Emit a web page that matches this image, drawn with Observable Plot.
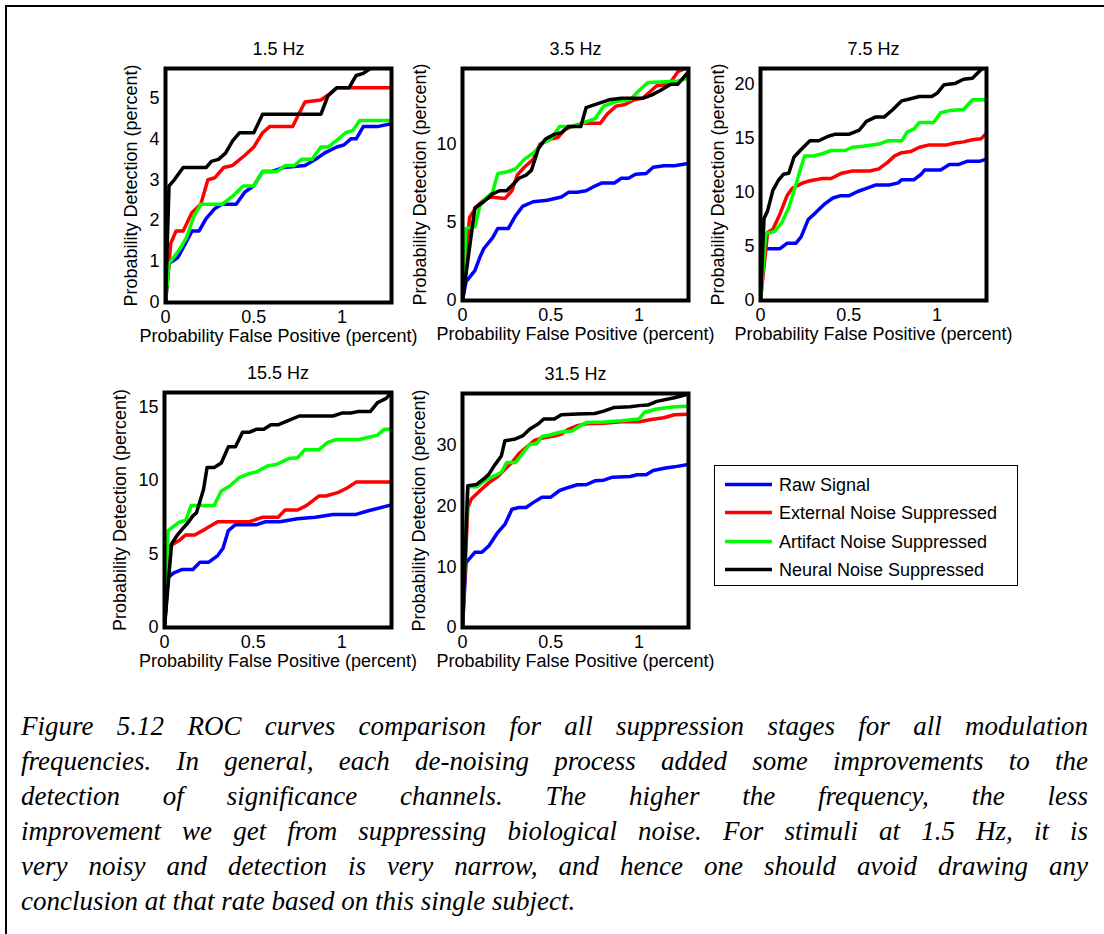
<!DOCTYPE html>
<html>
<head>
<meta charset="utf-8">
<script src="https://cdn.jsdelivr.net/npm/d3@7"></script>
<script src="https://cdn.jsdelivr.net/npm/@observablehq/plot@0.6"></script>
<style>
  html, body { margin: 0; padding: 0; background: #fff; }
  #page { position: relative; width: 1104px; height: 934px; overflow: hidden; font-family: "Liberation Sans", Arial, sans-serif; }
  #border { position: absolute; left: 5px; top: 5px; width: 1120px; height: 950px; border: 2px solid #000; box-sizing: border-box; }
  .panel { position: absolute; }
  .panel svg { overflow: visible; background: transparent; max-width: none; }
  #legend { position: absolute; left: 714px; top: 465px; width: 304px; height: 121px; border: 1.5px solid #000; box-sizing: border-box; background: #fff; }
  .lrow { position: absolute; left: 0; height: 28px; width: 100%; }
  .lrow svg { position: absolute; left: 10px; top: 0; }
  .lrow span { position: absolute; left: 64px; top: 3px; font-size: 18px; line-height: 22px; color: #000; white-space: nowrap; }
  #caption { position: absolute; left: 21px; top: 709px; width: 1067px; font-family: "Liberation Serif", "Times New Roman", serif; font-style: italic; font-size: 27px; line-height: 35px; color: #000; }
  #caption div { text-align: justify; text-align-last: justify; white-space: nowrap; }
  #caption div.last { text-align-last: left; }
</style>
</head>
<body>
<div id="page">
  <div id="border"></div>
  <div id="legend"></div>
  <div id="caption"></div>
</div>
<script>
// ---------- data ----------
const seriesNames = ["Raw Signal", "External Noise Suppressed", "Artifact Noise Suppressed", "Neural Noise Suppressed"];
const seriesColors = ["#0000ff", "#ff0000", "#00ff00", "#000000"];
const panelTitles = ["1.5 Hz", "3.5 Hz", "7.5 Hz", "15.5 Hz", "31.5 Hz"];
const xLabel = "Probability False Positive (percent)";
const yLabel = "Probability Detection (percent)";
const xMax = 1.28;
const xTicks = [0, 0.5, 1];
const yMaxes = [5.72, 14.8, 21.5, 16.0, 38.6];
const yTicks = [[0, 1, 2, 3, 4, 5], [0, 5, 10], [0, 5, 10, 15, 20], [0, 5, 10, 15], [0, 10, 20, 30]];

// 1.5 Hz
const hz1_raw = [[0,0],[0.02,0.95],[0.07,1.1],[0.12,1.5],[0.15,1.75],[0.19,1.75],[0.23,2.05],[0.28,2.3],[0.32,2.4],[0.4,2.4],[0.45,2.7],[0.5,2.85],[0.55,3.2],[0.6,3.2],[0.67,3.3],[0.79,3.35],[0.85,3.5],[0.9,3.65],[0.97,3.8],[1.01,3.85],[1.05,4.0],[1.08,4.0],[1.12,4.3],[1.2,4.3],[1.28,4.37]];
const hz1_ext = [[0,0],[0.03,1.45],[0.06,1.75],[0.1,1.75],[0.15,2.2],[0.2,2.4],[0.24,3.0],[0.28,3.05],[0.33,3.3],[0.38,3.35],[0.45,3.6],[0.5,3.8],[0.55,4.15],[0.59,4.3],[0.72,4.3],[0.76,4.65],[0.79,4.9],[0.88,4.95],[0.93,5.1],[0.97,5.25],[1.28,5.25]];
const hz1_art = [[0,0],[0.02,0.95],[0.08,1.3],[0.12,1.6],[0.16,2.1],[0.2,2.4],[0.32,2.4],[0.38,2.6],[0.44,2.85],[0.5,2.85],[0.55,3.2],[0.63,3.2],[0.68,3.35],[0.73,3.35],[0.77,3.5],[0.83,3.5],[0.88,3.8],[0.92,3.8],[0.98,4.0],[1.02,4.15],[1.06,4.2],[1.1,4.45],[1.28,4.45]];
const hz1_neu = [[0,0],[0.02,2.85],[0.05,3.0],[0.1,3.3],[0.23,3.3],[0.26,3.45],[0.3,3.5],[0.34,3.65],[0.38,3.95],[0.42,4.15],[0.5,4.15],[0.55,4.6],[0.88,4.6],[0.92,5.05],[0.97,5.25],[1.04,5.25],[1.08,5.55],[1.12,5.6],[1.16,5.72],[1.28,5.9]];

// 3.5 Hz
const hz3_raw = [[0,0],[0.02,1.2],[0.07,1.9],[0.1,2.8],[0.12,3.3],[0.17,4.0],[0.2,4.6],[0.26,4.6],[0.3,5.4],[0.34,6.0],[0.4,6.3],[0.48,6.4],[0.56,6.6],[0.6,6.9],[0.65,6.9],[0.7,7.0],[0.75,7.3],[0.79,7.5],[0.86,7.5],[0.9,7.8],[0.94,7.8],[0.98,8.05],[1.04,8.1],[1.08,8.5],[1.14,8.6],[1.2,8.6],[1.28,8.75]];
const hz3_ext = [[0,0],[0.04,5.3],[0.08,6.0],[0.12,6.4],[0.16,6.6],[0.24,6.5],[0.28,7.0],[0.31,8.0],[0.35,8.5],[0.4,9.0],[0.44,10.0],[0.5,10.3],[0.54,10.4],[0.58,10.9],[0.62,11.1],[0.68,11.3],[0.78,11.3],[0.82,11.9],[0.87,12.4],[0.92,12.5],[0.97,12.8],[1.02,12.9],[1.07,13.4],[1.1,13.7],[1.17,13.8],[1.22,14.6],[1.28,14.9]];
const hz3_art = [[0,0],[0.02,4.6],[0.07,4.7],[0.1,6.1],[0.13,6.5],[0.17,6.9],[0.2,8.1],[0.25,8.2],[0.3,8.4],[0.35,9.0],[0.4,9.4],[0.45,10.0],[0.5,10.3],[0.55,11.1],[0.63,11.1],[0.7,11.4],[0.75,11.6],[0.8,12.4],[0.87,12.7],[0.95,12.8],[1.0,13.4],[1.05,13.9],[1.15,13.95],[1.22,14.0],[1.28,14.2]];
const hz3_neu = [[0,0],[0.07,5.9],[0.12,6.3],[0.17,6.8],[0.21,7.0],[0.25,7.0],[0.32,7.8],[0.36,8.0],[0.39,8.3],[0.43,9.7],[0.47,10.3],[0.52,10.6],[0.56,10.7],[0.6,11.1],[0.67,11.1],[0.7,12.3],[0.75,12.5],[0.83,12.8],[0.9,12.9],[1.02,12.9],[1.07,13.1],[1.12,13.4],[1.18,13.8],[1.22,13.8],[1.28,14.6]];

// 7.5 Hz
const hz7_raw = [[0,0],[0.02,4.8],[0.11,4.8],[0.15,5.3],[0.2,5.3],[0.23,5.9],[0.27,7.5],[0.31,8.1],[0.36,8.9],[0.41,9.5],[0.45,9.7],[0.5,9.7],[0.55,10.1],[0.6,10.4],[0.65,10.7],[0.73,10.7],[0.78,10.9],[0.8,11.2],[0.87,11.2],[0.91,11.7],[0.93,12.1],[1.02,12.1],[1.07,12.6],[1.12,12.6],[1.17,12.9],[1.24,12.9],[1.28,13.1]];
const hz7_ext = [[0,0],[0.04,6.3],[0.07,6.6],[0.11,8.0],[0.15,9.7],[0.18,10.4],[0.24,10.9],[0.28,11.1],[0.35,11.3],[0.4,11.3],[0.46,11.8],[0.52,12.0],[0.62,12.0],[0.67,12.2],[0.72,12.8],[0.76,13.4],[0.8,13.7],[0.85,13.8],[0.9,14.2],[0.95,14.4],[1.05,14.4],[1.1,14.6],[1.15,14.7],[1.2,14.9],[1.25,15.0],[1.28,15.5]];
const hz7_art = [[0,0],[0.03,6.2],[0.08,6.4],[0.12,7.2],[0.16,8.6],[0.2,10.7],[0.23,12.4],[0.25,13.4],[0.3,13.4],[0.35,13.6],[0.4,13.9],[0.48,13.9],[0.52,14.2],[0.58,14.3],[0.67,14.5],[0.72,14.8],[0.8,14.8],[0.83,15.6],[0.87,15.9],[0.9,16.5],[0.98,16.5],[1.02,17.4],[1.07,17.6],[1.15,17.7],[1.2,18.6],[1.28,18.6]];
const hz7_neu = [[0,0],[0.02,7.6],[0.04,8.3],[0.07,10.2],[0.1,11.1],[0.13,11.7],[0.16,11.8],[0.19,13.3],[0.23,14.0],[0.28,14.8],[0.33,14.8],[0.38,15.2],[0.42,15.4],[0.5,15.4],[0.56,15.8],[0.6,16.6],[0.65,17.0],[0.7,17.0],[0.75,17.7],[0.8,18.5],[0.85,18.7],[0.9,18.9],[0.97,18.9],[1.0,19.2],[1.04,20.0],[1.1,20.1],[1.15,20.5],[1.2,20.6],[1.25,21.4],[1.28,21.8]];

// 15.5 Hz
const hz15_raw = [[0,0],[0.02,3.4],[0.05,3.7],[0.1,3.95],[0.16,3.95],[0.2,4.45],[0.25,4.45],[0.3,4.9],[0.33,5.4],[0.36,6.6],[0.4,7.0],[0.52,7.0],[0.57,7.2],[0.65,7.2],[0.75,7.4],[0.85,7.5],[0.95,7.7],[1.08,7.7],[1.15,7.95],[1.28,8.35]];
const hz15_ext = [[0,0],[0.03,5.55],[0.08,5.9],[0.12,6.3],[0.17,6.3],[0.23,6.7],[0.3,7.2],[0.48,7.2],[0.55,7.5],[0.64,7.5],[0.68,8.0],[0.75,8.0],[0.8,8.3],[0.87,8.95],[0.91,8.95],[0.98,9.2],[1.03,9.5],[1.08,9.9],[1.28,9.9]];
const hz15_art = [[0,0],[0.02,6.6],[0.08,7.15],[0.12,7.3],[0.15,8.3],[0.19,8.3],[0.28,8.3],[0.32,9.3],[0.37,9.65],[0.42,10.2],[0.47,10.45],[0.52,10.6],[0.58,11.0],[0.63,11.1],[0.7,11.5],[0.75,11.55],[0.79,12.1],[0.87,12.1],[0.92,12.6],[0.97,12.8],[1.1,12.8],[1.2,13.1],[1.24,13.5],[1.28,13.5]];
const hz15_neu = [[0,0],[0.04,5.7],[0.07,6.25],[0.1,6.7],[0.13,7.1],[0.16,7.6],[0.18,7.8],[0.2,8.6],[0.22,9.4],[0.24,10.9],[0.28,10.9],[0.32,11.2],[0.36,12.3],[0.4,12.3],[0.44,13.3],[0.48,13.3],[0.52,13.5],[0.56,13.5],[0.6,13.8],[0.64,13.8],[0.7,14.1],[0.76,14.4],[0.95,14.4],[1.0,14.6],[1.05,14.6],[1.09,14.7],[1.16,14.7],[1.2,15.3],[1.25,15.6],[1.28,16.0]];

// 31.5 Hz
const hz31_raw = [[0,0],[0.02,10.7],[0.07,12.4],[0.11,12.4],[0.15,13.5],[0.2,15.7],[0.24,17.0],[0.28,19.5],[0.32,19.8],[0.36,19.8],[0.4,20.6],[0.45,21.5],[0.5,21.5],[0.55,22.6],[0.6,23.1],[0.65,23.55],[0.7,23.55],[0.75,24.2],[0.8,24.3],[0.85,24.8],[0.95,24.9],[0.99,25.2],[1.04,25.2],[1.08,25.9],[1.15,26.3],[1.2,26.5],[1.28,26.9]];
const hz31_ext = [[0,0],[0.03,19.8],[0.05,21.2],[0.1,22.6],[0.15,23.9],[0.2,24.9],[0.25,26.4],[0.28,27.2],[0.32,28.7],[0.36,29.7],[0.41,30.9],[0.46,31.3],[0.52,31.6],[0.56,31.9],[0.6,32.7],[0.65,33.3],[0.7,33.6],[0.8,33.7],[0.9,33.95],[1.0,33.95],[1.07,34.3],[1.14,34.6],[1.2,35.1],[1.28,35.2]];
const hz31_art = [[0,0],[0.03,23.2],[0.08,23.2],[0.13,24.3],[0.18,25.0],[0.22,25.6],[0.25,27.2],[0.3,27.2],[0.34,28.7],[0.38,30.2],[0.42,30.3],[0.45,31.5],[0.5,31.8],[0.55,32.2],[0.62,32.4],[0.65,33.0],[0.7,33.8],[0.8,33.9],[0.9,34.1],[1.0,34.4],[1.03,35.5],[1.1,36.05],[1.2,36.4],[1.28,36.5]];
const hz31_neu = [[0,0],[0.03,23.4],[0.08,23.6],[0.12,24.5],[0.15,25.3],[0.18,26.7],[0.22,28.3],[0.24,30.8],[0.3,31.1],[0.34,31.6],[0.38,32.7],[0.43,33.6],[0.46,34.4],[0.52,34.4],[0.56,35.1],[0.65,35.2],[0.75,35.3],[0.8,35.7],[0.86,36.3],[0.95,36.4],[1.0,36.6],[1.05,36.7],[1.1,37.3],[1.2,37.9],[1.28,38.5]];

const captionLines = [
  "Figure 5.12 ROC curves comparison for all suppression stages for all modulation",
  "frequencies. In general, each de-noising process added some improvements to the",
  "detection of significance channels.  The higher the frequency, the less",
  "improvement we get from suppressing biological noise. For stimuli at 1.5 Hz, it is",
  "very noisy and detection is very narrow, and hence one should avoid drawing any",
  "conclusion at that rate based on this single subject."
];

// ---------- layout ----------
const panelSeries = [
  [hz1_raw, hz1_ext, hz1_art, hz1_neu],
  [hz3_raw, hz3_ext, hz3_art, hz3_neu],
  [hz7_raw, hz7_ext, hz7_art, hz7_neu],
  [hz15_raw, hz15_ext, hz15_art, hz15_neu],
  [hz31_raw, hz31_ext, hz31_art, hz31_neu]
];
const frames = [
  {l: 165, t: 68, w: 226, h: 234},
  {l: 462, t: 68, w: 226, h: 232},
  {l: 760, t: 68, w: 226, h: 232},
  {l: 164, t: 392, w: 227, h: 235},
  {l: 462, t: 393, w: 226, h: 234}
];
const yLabelDx = [-34, -42, -42, -44, -43];
const M = {l: 70, r: 50, t: 40, b: 55};
const font = '"Liberation Sans", Arial, sans-serif';

const page = document.getElementById("page");

panelSeries.forEach((series, i) => {
  const f = frames[i];
  const data = [];
  series.forEach((pts, s) => pts.forEach(([x, y]) => data.push({x, y, series: seriesNames[s]})));
  const chart = Plot.plot({
    width: f.w + M.l + M.r,
    height: f.h + M.t + M.b,
    marginLeft: M.l, marginRight: M.r, marginTop: M.t, marginBottom: M.b,
    style: {fontFamily: font, fontSize: "18px", color: "#000", background: "transparent", overflow: "visible"},
    x: {domain: [0, xMax], label: null},
    y: {domain: [0, yMaxes[i]], label: null},
    color: {domain: seriesNames, range: seriesColors},
    marks: [
      Plot.line(data, {x: "x", y: "y", z: "series", stroke: "series", strokeWidth: 3.5, strokeLinejoin: "round", clip: true}),
      Plot.frame({stroke: "#000", strokeWidth: 4}),
      Plot.axisX({ticks: xTicks, tickFormat: d => String(d), tickSize: 0, tickPadding: 8, label: null, fontSize: 18}),
      Plot.axisY({ticks: yTicks[i], tickFormat: d => String(d), tickSize: 0, tickPadding: 6, label: null, fontSize: 18}),
      Plot.text([panelTitles[i]], {text: d => d, frameAnchor: "top", dy: -19, lineAnchor: "middle", textAnchor: "middle", fontSize: 18, fill: "#000"}),
      Plot.text([xLabel], {text: d => d, frameAnchor: "bottom", dy: 34, lineAnchor: "middle", textAnchor: "middle", fontSize: 18, fill: "#000"}),
      Plot.text([yLabel], {text: d => d, frameAnchor: "left", dx: yLabelDx[i], rotate: -90, lineAnchor: "middle", textAnchor: "middle", fontSize: 18, fill: "#000"})
    ]
  });
  const wrap = document.createElement("div");
  wrap.className = "panel";
  wrap.style.left = (f.l - M.l) + "px";
  wrap.style.top = (f.t - M.t) + "px";
  wrap.appendChild(chart);
  page.appendChild(wrap);
});

// legend
const legend = document.getElementById("legend");
const rowTops = [5, 33, 62, 90];
seriesNames.forEach((name, i) => {
  const row = document.createElement("div");
  row.className = "lrow";
  row.style.top = rowTops[i] + "px";
  row.innerHTML = `<svg width="50" height="28"><line x1="0" x2="47" y1="13.5" y2="13.5" stroke="${seriesColors[i]}" stroke-width="3.5"/></svg><span>${name}</span>`;
  legend.appendChild(row);
});

// caption
const cap = document.getElementById("caption");
captionLines.forEach((t, i) => {
  const d = document.createElement("div");
  d.textContent = t;
  if (i === captionLines.length - 1) d.className = "last";
  cap.appendChild(d);
});
</script>
</body>
</html>
